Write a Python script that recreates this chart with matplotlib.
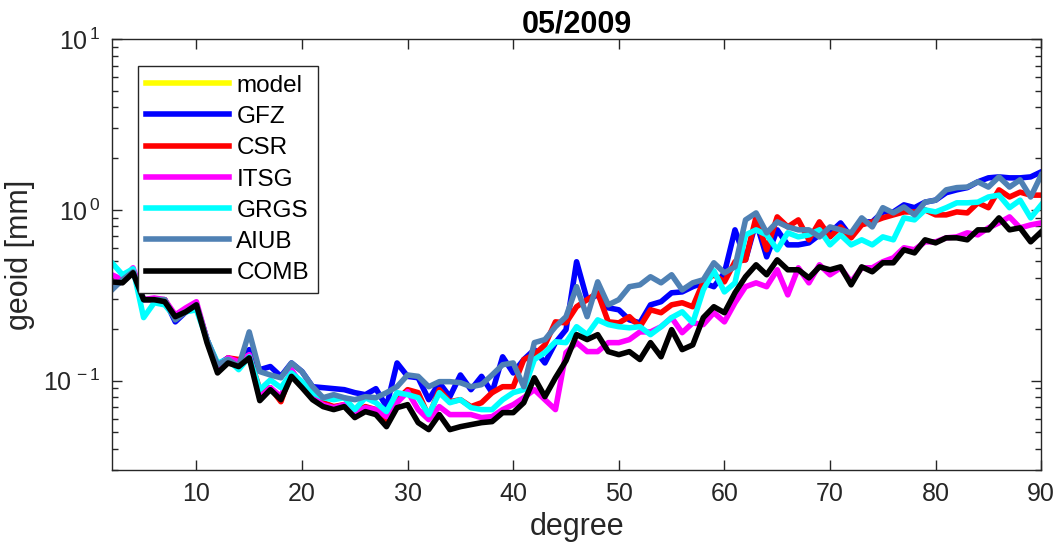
import numpy as np
import matplotlib
matplotlib.use("Agg")
import matplotlib.pyplot as plt
from matplotlib.ticker import LogLocator, NullFormatter, FixedLocator, FuncFormatter

plt.rcParams['font.family'] = ['Liberation Sans', 'DejaVu Sans']
plt.rcParams['mathtext.fontset'] = 'custom'
plt.rcParams['mathtext.rm'] = 'Liberation Sans'
plt.rcParams['mathtext.it'] = 'Liberation Sans'

degree = list(range(2, 91))

# geoid degree amplitudes [mm] (degrees 2..90)
gfz = [0.364, 0.379, 0.434, 0.298, 0.298, 0.298, 0.221, 0.253, 0.278, 0.174,
       0.124, 0.136, 0.124, 0.152, 0.116, 0.121, 0.106, 0.127, 0.113, 0.0922,
       0.0910, 0.0898, 0.0886, 0.0851, 0.0828, 0.0898, 0.0705, 0.127, 0.106, 0.104,
       0.0774, 0.0973, 0.0806, 0.108, 0.0886, 0.106, 0.0851, 0.138, 0.111, 0.133,
       0.152, 0.127, 0.167, 0.199, 0.497, 0.298, 0.318, 0.267, 0.260, 0.227,
       0.218, 0.278, 0.290, 0.327, 0.331, 0.355, 0.374, 0.355, 0.428, 0.764,
       0.510, 0.851, 0.531, 0.764, 0.624, 0.624, 0.641, 0.714, 0.734, 0.839,
       0.695, 0.851, 0.851, 0.973, 0.973, 1.07, 1.03, 1.11, 1.14, 1.26,
       1.31, 1.35, 1.46, 1.54, 1.56, 1.54, 1.54, 1.56, 1.67]

csr = [0.364, 0.390, 0.434, 0.298, 0.298, 0.298, 0.234, 0.260, 0.278, 0.174,
       0.119, 0.136, 0.133, 0.140, 0.0886, 0.0910, 0.0753, 0.113, 0.0948, 0.0806,
       0.0743, 0.0705, 0.0724, 0.0650, 0.0705, 0.0677, 0.0591, 0.0774, 0.0886, 0.0851,
       0.0616, 0.0886, 0.0753, 0.0774, 0.0705, 0.0743, 0.0851, 0.0922, 0.0922, 0.133,
       0.142, 0.162, 0.221, 0.218, 0.271, 0.298, 0.327, 0.221, 0.218, 0.237,
       0.207, 0.260, 0.250, 0.278, 0.286, 0.271, 0.379, 0.417, 0.379, 0.497,
       0.510, 0.910, 0.584, 0.910, 0.795, 0.874, 0.668, 0.851, 0.695, 0.795,
       0.686, 0.817, 0.851, 0.898, 0.935, 0.973, 0.973, 1.00, 0.935, 0.935,
       0.973, 0.960, 1.10, 1.03, 1.31, 1.19, 1.27, 1.22, 1.22]

itsg = [0.417, 0.390, 0.458, 0.298, 0.305, 0.298, 0.243, 0.267, 0.290, 0.174,
        0.119, 0.136, 0.129, 0.142, 0.0795, 0.0910, 0.0806, 0.116, 0.0935, 0.0795,
        0.0724, 0.0695, 0.0724, 0.0650, 0.0695, 0.0677, 0.0616, 0.0743, 0.0863, 0.0677,
        0.0591, 0.0705, 0.0633, 0.0633, 0.0633, 0.0608, 0.0616, 0.0677, 0.0724, 0.0795,
        0.0886, 0.0774, 0.0677, 0.146, 0.167, 0.148, 0.148, 0.167, 0.167, 0.174,
        0.193, 0.193, 0.207, 0.234, 0.191, 0.218, 0.213, 0.250, 0.221, 0.286,
        0.355, 0.374, 0.355, 0.446, 0.318, 0.458, 0.374, 0.477, 0.417, 0.458,
        0.379, 0.458, 0.458, 0.497, 0.524, 0.600, 0.584, 0.650, 0.650, 0.686,
        0.695, 0.734, 0.714, 0.785, 0.839, 0.910, 0.785, 0.817, 0.839]

grgs = [0.490, 0.417, 0.452, 0.234, 0.286, 0.278, 0.234, 0.253, 0.260, 0.174,
        0.127, 0.133, 0.116, 0.138, 0.0886, 0.101, 0.0910, 0.111, 0.0987, 0.0851,
        0.0795, 0.0774, 0.0795, 0.0677, 0.0795, 0.0743, 0.0659, 0.0851, 0.0828, 0.0795,
        0.0633, 0.0851, 0.0743, 0.0774, 0.0695, 0.0677, 0.0677, 0.0774, 0.0851, 0.0886,
        0.133, 0.146, 0.169, 0.167, 0.207, 0.186, 0.227, 0.213, 0.207, 0.204,
        0.207, 0.186, 0.207, 0.234, 0.253, 0.218, 0.340, 0.440, 0.331, 0.374,
        0.714, 0.764, 0.714, 0.584, 0.734, 0.695, 0.714, 0.764, 0.624, 0.714,
        0.624, 0.668, 0.624, 0.695, 0.668, 0.898, 0.874, 1.00, 0.973, 1.03,
        1.10, 1.10, 1.11, 1.19, 1.22, 1.03, 1.14, 0.898, 1.07]

aiub = [0.340, 0.390, 0.434, 0.298, 0.298, 0.298, 0.227, 0.253, 0.278, 0.174,
        0.124, 0.133, 0.121, 0.193, 0.113, 0.108, 0.104, 0.127, 0.113, 0.0922,
        0.0795, 0.0828, 0.0795, 0.0774, 0.0806, 0.0795, 0.0851, 0.0922, 0.108, 0.106,
        0.0922, 0.0987, 0.0987, 0.0973, 0.0922, 0.0948, 0.108, 0.124, 0.127, 0.0922,
        0.167, 0.174, 0.207, 0.237, 0.355, 0.237, 0.379, 0.278, 0.298, 0.355,
        0.364, 0.406, 0.374, 0.417, 0.340, 0.374, 0.390, 0.490, 0.428, 0.464,
        0.874, 0.960, 0.734, 0.851, 0.795, 0.764, 0.764, 0.695, 0.795, 0.764,
        0.734, 0.898, 0.795, 1.03, 0.960, 1.04, 0.935, 1.11, 1.14, 1.31,
        1.35, 1.36, 1.46, 1.36, 1.56, 1.36, 1.50, 1.19, 1.60]

comb = [0.379, 0.374, 0.428, 0.298, 0.298, 0.290, 0.237, 0.253, 0.278, 0.167,
        0.111, 0.127, 0.121, 0.136, 0.0764, 0.0886, 0.0774, 0.106, 0.0910, 0.0774,
        0.0705, 0.0677, 0.0705, 0.0608, 0.0659, 0.0633, 0.0538, 0.0695, 0.0724, 0.0568,
        0.0517, 0.0633, 0.0517, 0.0538, 0.0553, 0.0568, 0.0576, 0.0650, 0.0650, 0.0743,
        0.104, 0.0806, 0.104, 0.131, 0.186, 0.174, 0.186, 0.148, 0.142, 0.148,
        0.133, 0.167, 0.138, 0.199, 0.152, 0.162, 0.234, 0.271, 0.250, 0.327,
        0.406, 0.477, 0.417, 0.510, 0.446, 0.446, 0.400, 0.464, 0.446, 0.464,
        0.364, 0.464, 0.434, 0.490, 0.490, 0.584, 0.560, 0.668, 0.641, 0.686,
        0.686, 0.668, 0.764, 0.764, 0.898, 0.764, 0.785, 0.650, 0.744]

series = [
    ('model', [], 'yellow'),
    ('GFZ', gfz, 'blue'),
    ('CSR', csr, 'red'),
    ('ITSG', itsg, 'magenta'),
    ('GRGS', grgs, 'cyan'),
    ('AIUB', aiub, '#4f81b4'),
    ('COMB', comb, 'black'),
]

fig = plt.figure(figsize=(10.56, 5.56), dpi=100)
ax = fig.add_axes([0.106, 0.1547, 0.880, 0.775])

for name, vals, col in series:
    if len(vals):
        ax.plot(degree, vals, color=col, lw=4, label=name)
    else:
        ax.plot([], [], color=col, lw=4, label=name)

ax.set_yscale('log')
ax.set_xlim(2, 90)
ax.set_ylim(0.03, 10)
ax.xaxis.set_major_locator(FixedLocator([10, 20, 30, 40, 50, 60, 70, 80, 90]))
ax.yaxis.set_major_locator(LogLocator(base=10, numticks=10))
ax.yaxis.set_major_formatter(FuncFormatter(lambda v, p: r'$10^{\,%d}$' % round(np.log10(v))))
ax.yaxis.set_minor_locator(LogLocator(base=10, subs=np.arange(2, 10), numticks=10))
ax.yaxis.set_minor_formatter(NullFormatter())

txt = '#262626'
ax.tick_params(which='both', direction='in', top=True, right=True,
               colors=txt, labelsize=18, width=1)
ax.tick_params(which='major', length=7)
ax.tick_params(which='minor', length=4)
ax.tick_params(axis='x', pad=9)
ax.tick_params(axis='y', pad=8)
for s in ax.spines.values():
    s.set_color(txt)
    s.set_linewidth(1)

ax.set_xlabel('degree', fontsize=22, color=txt, labelpad=4)
ax.set_ylabel('geoid [mm]', fontsize=22, color=txt, labelpad=6)
ax.set_title('05/2009', fontsize=22, fontweight='bold', color='black', pad=4)

leg = ax.legend(loc='upper left', bbox_to_anchor=(0.028, 0.937), fontsize=17.5,
                handlelength=3.4, handletextpad=0.3, labelspacing=0.38,
                borderpad=0.35, borderaxespad=0, fancybox=False, framealpha=1,
                edgecolor=txt)
leg.get_frame().set_linewidth(1)

fig.savefig('out.png', dpi=100)
